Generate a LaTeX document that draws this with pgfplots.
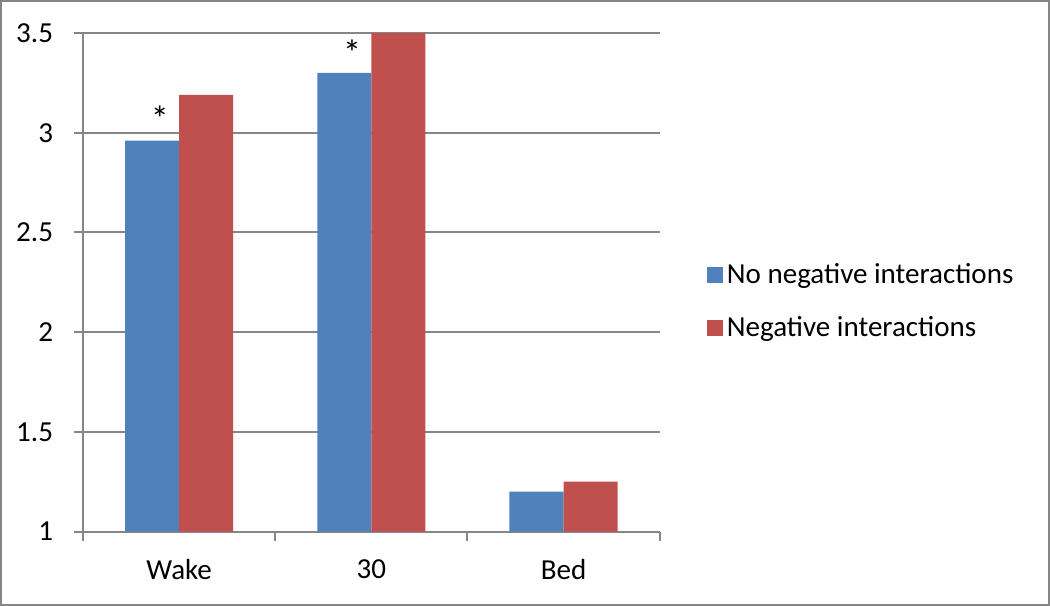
\documentclass[border=0pt]{standalone}
\usepackage{fontspec}
\setmainfont{Carlito}
\usepackage{pgfplots}
\pgfplotsset{compat=1.18}
\definecolor{xblue}{HTML}{4F81BD}
\definecolor{xred}{HTML}{C0504D}
\definecolor{xgray}{HTML}{868686}
\begin{document}
\begin{tikzpicture}
\begin{axis}[
  at={(0pt,0pt)}, anchor=south west,
  scale only axis, width=288pt, height=249pt,
  ymin=1, ymax=3.5, ytick={1,1.5,2,2.5,3,3.5},
  xmin=-0.5, xmax=2.5,
  xtick={0,1,2}, xticklabels={Wake,30,Bed},
  minor xtick={-0.5,0.5,1.5,2.5},
  major x tick style={draw=none},
  axis x line*=bottom, axis y line*=left,
  ymajorgrids, grid style={xgray, line width=1pt},
  axis line style={xgray, line width=1pt},
  tick style={xgray, line width=1pt},
  tick align=outside,
  major tick length=4.5pt, minor tick length=4.5pt,
  ybar=0pt, bar width=27pt,
  font=\fontsize{14.5}{17}\selectfont,
  /pgf/number format/assume math mode=true,
  yticklabel style={font=\fontsize{14.5}{17}\selectfont, xshift=-7pt},
  xticklabel style={font=\fontsize{14.5}{17}\selectfont, yshift=-6pt},
  legend style={at={(1.071,0.462)}, anchor=west, draw=none, fill=none,
    row sep=11pt, font=\fontsize{14.5}{17}\selectfont},
  legend cell align=left,
  legend image code/.code={\draw[#1, draw=none] (0pt,-4pt) rectangle (8pt,4pt);},
]
\addplot[fill=xblue, draw=none] coordinates {(0,2.96) (1,3.30) (2,1.20)};
\addplot[fill=xred, draw=none] coordinates {(0,3.19) (1,3.50) (2,1.25)};
\legend{No negative interactions, Negative interactions}
\node[font=\fontsize{18}{20}\selectfont] at (axis cs:-0.1,3.07) {*};
\node[font=\fontsize{18}{20}\selectfont] at (axis cs:0.9,3.40) {*};
\end{axis}
\draw[xgray, line width=1pt] (-41pt,-36.5pt) rectangle (482.5pt,265pt);
\end{tikzpicture}
\end{document}
